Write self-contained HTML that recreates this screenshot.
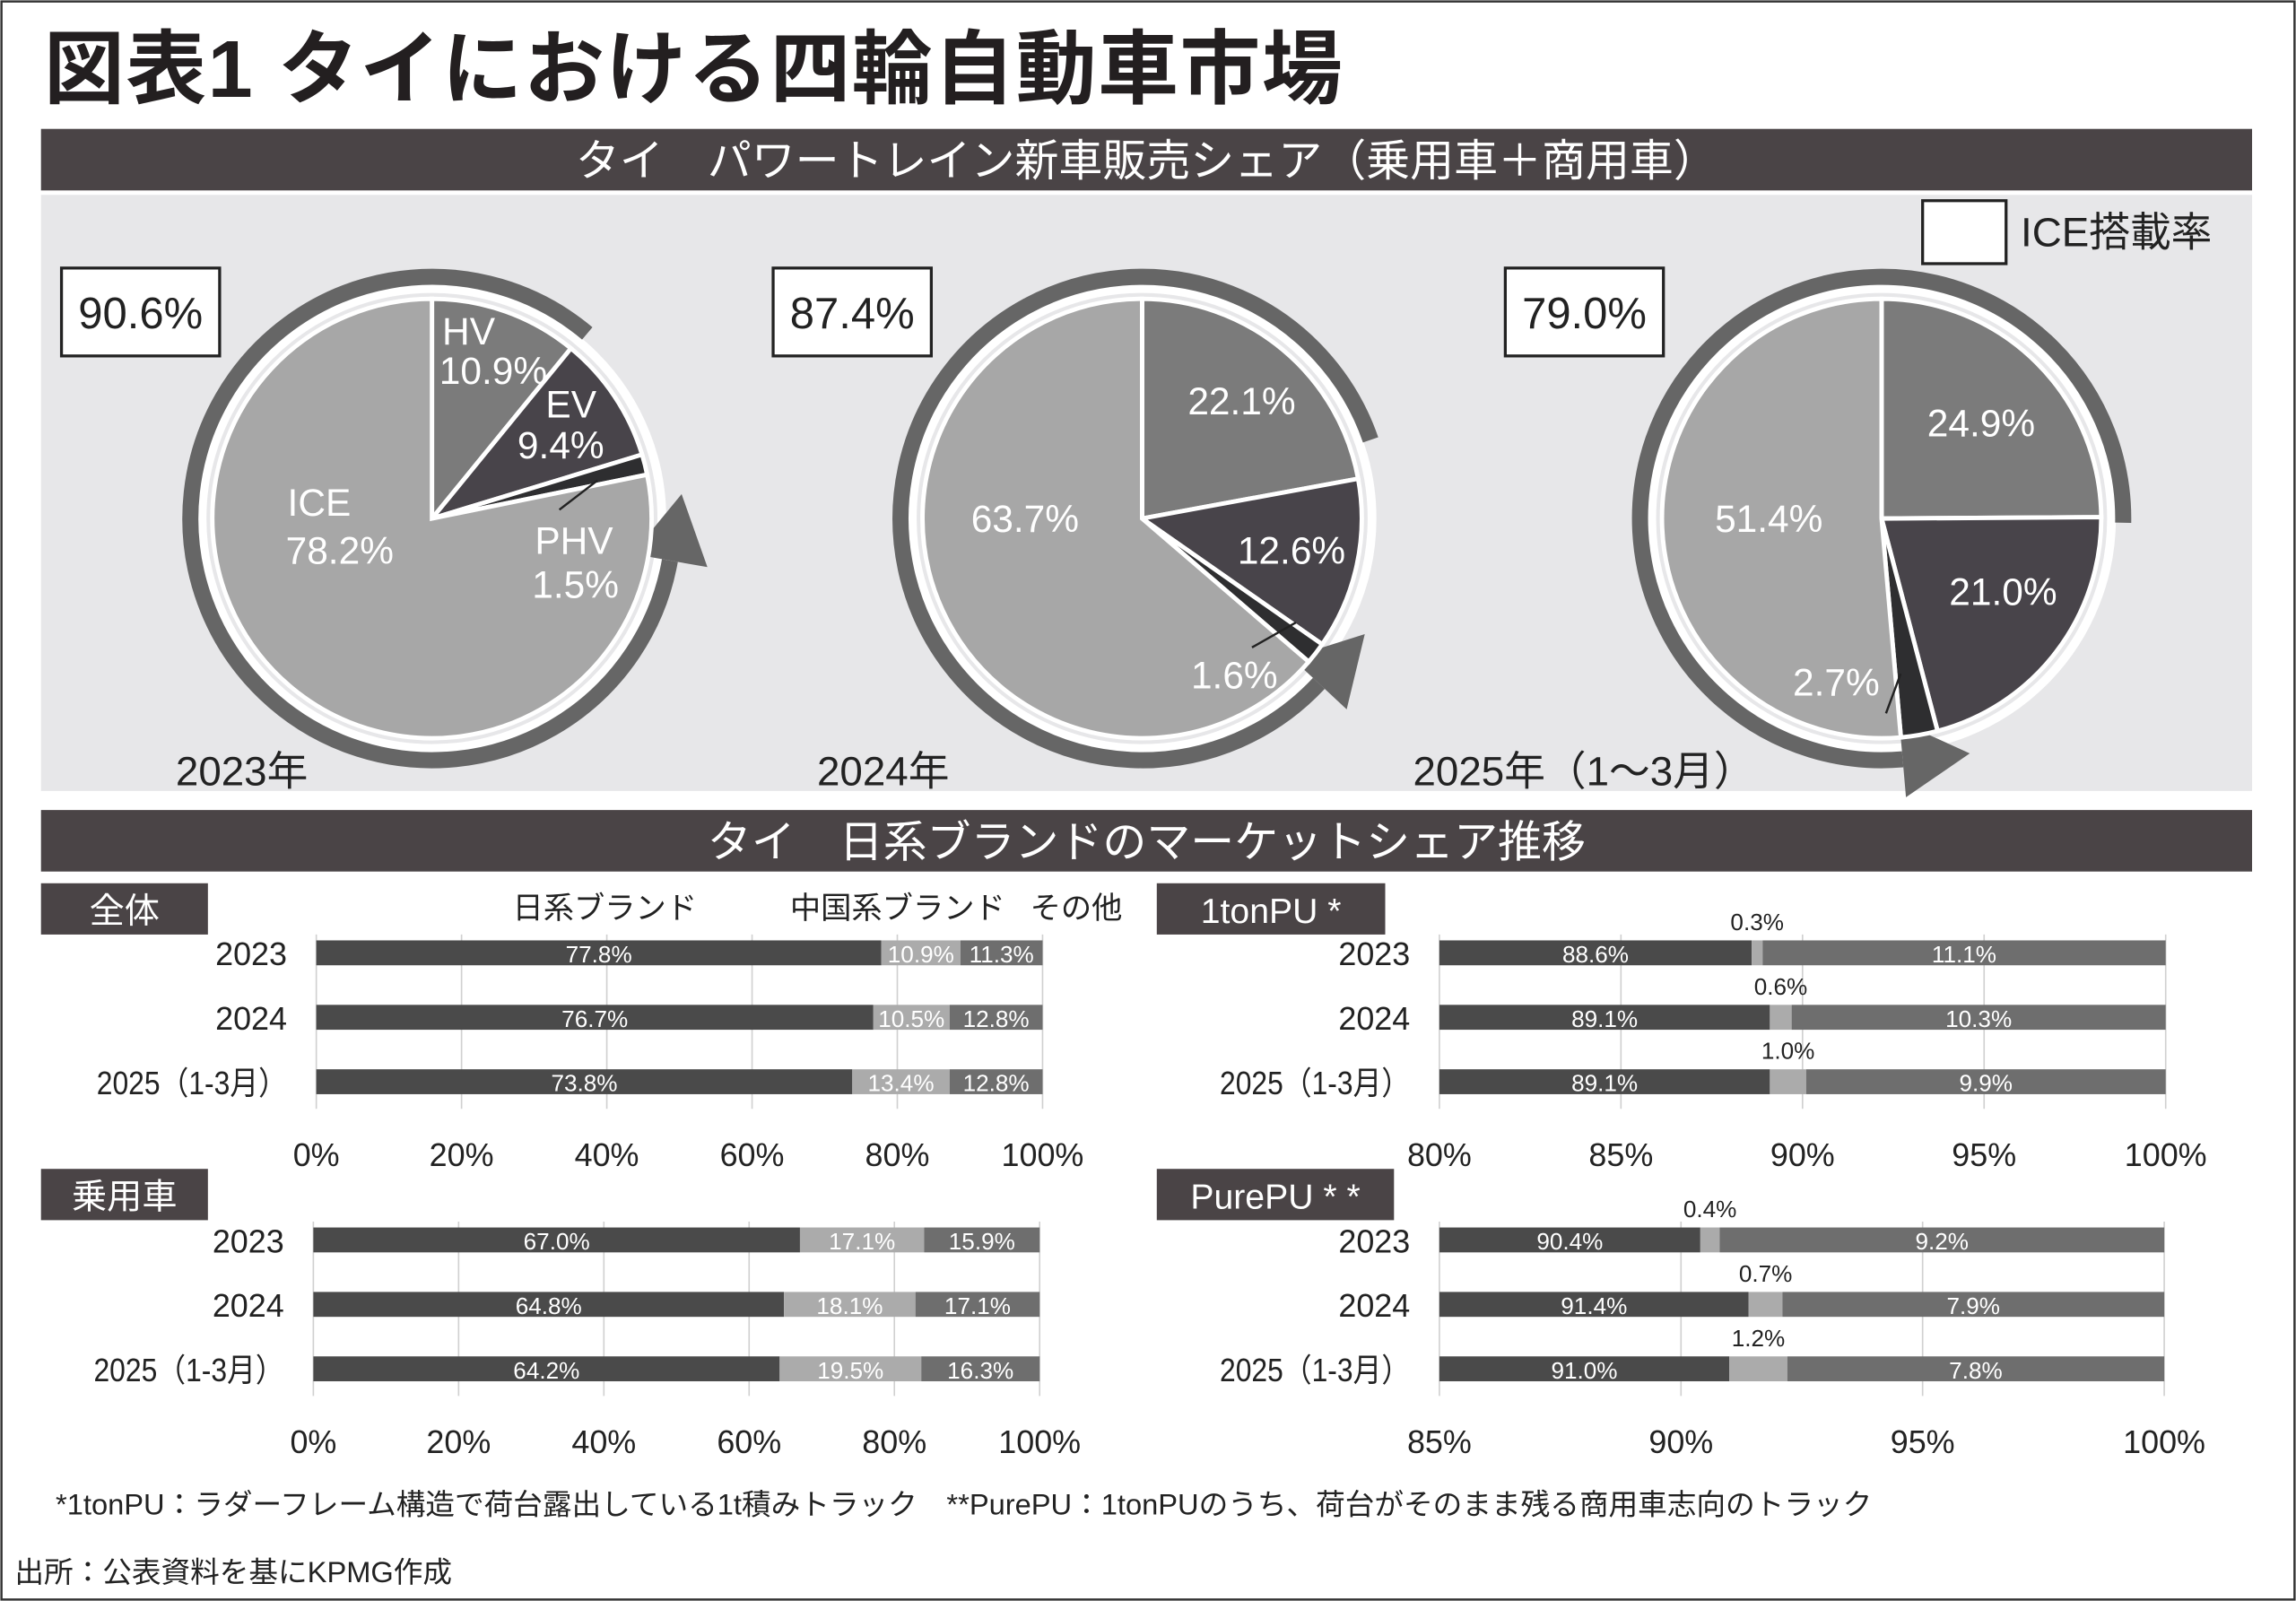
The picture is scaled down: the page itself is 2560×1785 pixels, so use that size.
<!DOCTYPE html>
<html><head><meta charset="utf-8">
<style>
html,body{margin:0;padding:0;background:#fff}
svg{display:block}
text{font-family:"Liberation Sans","Noto Sans CJK JP",sans-serif}
</style></head>
<body>
<svg id="s" width="2560" height="1785" viewBox="0 0 1568 1093" preserveAspectRatio="none" xmlns="http://www.w3.org/2000/svg">
<rect x="0" y="0" width="1568" height="1093" fill="#fff"/>
<rect x="1" y="1" width="1566" height="1091" fill="none" stroke="#333" stroke-width="1.5"/>
<text x="30" y="66" font-size="55" font-weight="bold" fill="#231f20" letter-spacing="1">図表1 タイにおける四輪自動車市場</text>
<rect x="28" y="88" width="1510" height="42" fill="#4a4446"/>
<text x="783" y="120" font-size="30" fill="#fff" text-anchor="middle">タイ　パワートレイン新車販売シェア（乗用車＋商用車）</text>
<rect x="28" y="133" width="1510" height="407" fill="#e7e7e9"/>
<rect x="1313" y="137" width="57" height="43" fill="#fff" stroke="#222" stroke-width="2"/>
<text x="1380" y="168" font-size="28" fill="#222">ICE搭載率</text>
<g id="pies"></g>
<rect x="28" y="553" width="1510" height="42" fill="#4a4446"/>
<text x="783" y="585" font-size="30" fill="#fff" text-anchor="middle">タイ　日系ブランドのマーケットシェア推移</text>
<g id="bars"></g>
<text x="38" y="1034" font-size="20" fill="#222">*1tonPU：ラダーフレーム構造で荷台露出している1t積みトラック　**PurePU：1tonPUのうち、荷台がそのまま残る商用車志向のトラック</text>
<text x="10" y="1080" font-size="20" fill="#222">出所：公表資料を基にKPMG作成</text>
</svg>
<script>
const NS="http://www.w3.org/2000/svg";
function el(p,t,a,txt){const e=document.createElementNS(NS,t);for(const k in a)e.setAttribute(k,a[k]);if(txt!==undefined)e.textContent=txt;p.appendChild(e);return e;}
const P=document.getElementById('pies');
function pt(cx,cy,r,a){const rad=a*Math.PI/180;return [cx+r*Math.sin(rad),cy-r*Math.cos(rad)];}
function pie(cx,cy,vals,cols,arcS,arcE,box,boxTxt,year,yearX,labels,leader){
 el(P,'circle',{cx,cy,r:157,fill:'none',stroke:'#fff',"stroke-width":6});
 const R=165;const s=pt(cx,cy,R,arcS),e=pt(cx,cy,R,arcE);
 const sweep=(arcS-arcE+360)%360;
 el(P,'path',{d:`M${s[0]},${s[1]} A${R},${R} 0 ${sweep>180?1:0} 0 ${e[0]},${e[1]}`,fill:'none',stroke:'#666',"stroke-width":11});
 const a=arcE*Math.PI/180;const dx=-Math.cos(a),dy=-Math.sin(a);const nx=-dy,ny=dx;
 const tip=[e[0]+dx*46,e[1]+dy*46];
 el(P,'polygon',{points:`${tip[0]},${tip[1]} ${e[0]+nx*26},${e[1]+ny*26} ${e[0]-nx*26},${e[1]-ny*26}`,fill:'#666'});
 let ang=0;
 vals.forEach((v,i)=>{const a2=ang+v*3.6;const p1=pt(cx,cy,150,ang),p2=pt(cx,cy,150,a2);
  el(P,'path',{d:`M${cx},${cy} L${p1[0]},${p1[1]} A150,150 0 ${v>50?1:0} 1 ${p2[0]},${p2[1]} Z`,fill:cols[i],stroke:'#fff',"stroke-width":3});ang=a2;});
 el(P,'rect',{x:box,y:183,width:108,height:60,fill:'#fff',stroke:'#222',"stroke-width":2});
 el(P,'text',{x:box+54,y:224,"font-size":30,"text-anchor":"middle",fill:'#222'},boxTxt);
 el(P,'text',{x:yearX,y:536,"font-size":28,fill:'#222'},year);
 labels.forEach(l=>el(P,'text',{x:l[0],y:l[1],"font-size":26,fill:'#fff',"text-anchor":l[3]||'middle'},l[2]));
 el(P,'line',{x1:leader[0],y1:leader[1],x2:leader[2],y2:leader[3],stroke:'#222',"stroke-width":1.5});
}
const C=['#7b7b7b','#48444a','#2e2e30','#a7a7a7'];
pie(295,354,[10.9,9.4,1.5,78.2],C,40,100,42,'90.6%','2023年',120,
 [[302,235,'HV','start'],[300,262,'10.9%','start'],[390,285,'EV'],[383,313,'9.4%'],[218,352,'ICE'],[232,385,'78.2%'],[392,378,'PHV'],[393,408,'1.5%']],[382,348,408,328]);
pie(780,354,[22.1,12.6,1.6,63.7],C,71,133,528,'87.4%','2024年',558,
 [[848,283,'22.1%'],[882,385,'12.6%'],[700,363,'63.7%'],[843,470,'1.6%']],[855,442,885,425]);
pie(1285,354,[24.9,21.0,2.7,51.4],C,91,175,1028,'79.0%','2025年（1〜3月）',965,
 [[1353,298,'24.9%'],[1368,413,'21.0%'],[1208,363,'51.4%'],[1254,475,'2.7%']],[1288,487,1298,460]);

const B=document.getElementById('bars');
const BC=['#4a4a4a','#ababab','#6e6e6e'];
function chart(x0,x1,min,max,ticks,y0,tickY,data,above,label,lx,lw,ly){
 el(B,'rect',{x:lx,y:ly,width:lw,height:35,fill:'#4a4446'});
 el(B,'text',{x:lx+lw/2,y:ly+27,"font-size":24,fill:'#fff',"text-anchor":"middle"},label);
 const X=v=>x0+(v-min)/(max-min)*(x1-x0);
 ticks.forEach(t=>{el(B,'line',{x1:X(t),y1:y0-4,x2:X(t),y2:y0+115,stroke:'#d0d0d0',"stroke-width":1});
  el(B,'text',{x:X(t),y:tickY,"font-size":22,"text-anchor":"middle",fill:'#222'},t+'%');});
 const years=['2023','2024','2025（1-3月）'];
 data.forEach((d,i)=>{const y=y0+i*44;
  const at={x:x0-20,y:y+17,"font-size":22,"text-anchor":"end",fill:'#222'};
  if(i==2){at.textLength=130;at.lengthAdjust='spacingAndGlyphs';}
  el(B,'text',at,years[i]);
  const segs=above?[[min,d[0]],[d[0],d[0]+d[1]],[d[0]+d[1],100]]:[[0,d[0]],[d[0],d[0]+d[1]],[d[0]+d[1],100]];
  segs.forEach((s,j)=>{const a=Math.max(s[0],min);el(B,'rect',{x:X(a),y:y,width:Math.max(0,X(s[1])-X(a)),height:17,fill:BC[j]});});
  if(above){
   el(B,'text',{x:(X(min)+X(d[0]))/2,y:y+15,"font-size":16,"text-anchor":"middle",fill:'#fff'},d[0].toFixed(1)+'%');
   el(B,'text',{x:(X(d[0]+d[1])+X(100))/2,y:y+15,"font-size":16,"text-anchor":"middle",fill:'#fff'},d[2].toFixed(1)+'%');
   el(B,'text',{x:X(d[0]+d[1]/2),y:y-7,"font-size":16,"text-anchor":"middle",fill:'#222'},d[1].toFixed(1)+'%');
  } else {
   el(B,'text',{x:(X(0)+X(d[0]))/2,y:y+15,"font-size":16,"text-anchor":"middle",fill:'#fff'},d[0].toFixed(1)+'%');
   el(B,'text',{x:(X(d[0])+X(d[0]+d[1]))/2,y:y+15,"font-size":16,"text-anchor":"middle",fill:'#fff'},d[1].toFixed(1)+'%');
   el(B,'text',{x:(X(d[0]+d[1])+X(100))/2,y:y+15,"font-size":16,"text-anchor":"middle",fill:'#fff'},d[2].toFixed(1)+'%');
  }
 });
}
chart(216,712,0,100,[0,20,40,60,80,100],642,796,[[77.8,10.9,11.3],[76.7,10.5,12.8],[73.8,13.4,12.8]],false,'全体',28,114,603);
chart(214,710,0,100,[0,20,40,60,80,100],838,992,[[67.0,17.1,15.9],[64.8,18.1,17.1],[64.2,19.5,16.3]],false,'乗用車',28,114,798);
chart(983,1479,80,100,[80,85,90,95,100],642,796,[[88.6,0.3,11.1],[89.1,0.6,10.3],[89.1,1.0,9.9]],true,'1tonPU *',790,156,603);
chart(983,1478,85,100,[85,90,95,100],838,992,[[90.4,0.4,9.2],[91.4,0.7,7.9],[91.0,1.2,7.8]],true,'PurePU * *',790,162,798);
el(B,'text',{x:413,y:627,"font-size":21,"text-anchor":"middle",fill:'#222'},'日系ブランド');
el(B,'text',{x:613,y:627,"font-size":21,"text-anchor":"middle",fill:'#222'},'中国系ブランド');
el(B,'text',{x:735,y:627,"font-size":21,"text-anchor":"middle",fill:'#222'},'その他');
</script>
</body></html>
